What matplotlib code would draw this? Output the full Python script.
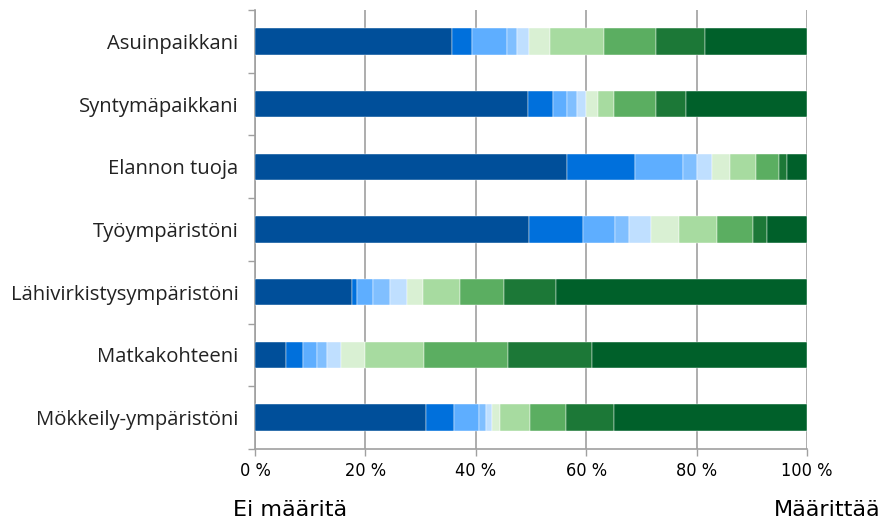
#!/usr/bin/env python3
"""Stacked 100 % bar chart: how much each place defines the respondent"""

import numpy as np
import matplotlib.pyplot as plt
from matplotlib.ticker import FixedLocator, PercentFormatter

# Categories, top to bottom
categories = ['Asuinpaikkani', 'Syntymäpaikkani', 'Elannon tuoja', 'Työympäristöni',
              'Lähivirkistysympäristöni', 'Matkakohteeni', 'Mökkeily-ympäristöni']

# Share (%) of each answer step 1..10, per category
shares = [
    [35.6, 3.7, 6.4, 1.8, 2.2, 3.7, 9.8, 9.5, 8.9, 18.4],
    [49.4, 4.6, 2.6, 1.8, 1.5, 2.2, 2.9, 7.7, 5.3, 22.0],
    [56.6, 12.3, 8.6, 2.6, 2.6, 3.3, 4.7, 4.3, 1.4, 3.6],
    [49.7, 9.7, 5.8, 2.5, 4.1, 5.1, 6.8, 6.6, 2.5, 7.2],
    [17.5, 0.9, 3.0, 3.1, 3.0, 2.9, 6.8, 7.9, 9.4, 45.5],
    [5.7, 3.0, 2.5, 1.8, 2.5, 4.4, 10.8, 15.1, 15.2, 39.0],
    [30.9, 5.1, 4.6, 1.2, 1.1, 1.5, 5.5, 6.5, 8.6, 35.0],
]

colors = ['#004f9a', '#0070dc', '#5eaeff', '#80bfff', '#bfdfff',
          '#d9f0d3', '#a7dba0', '#5bae61', '#1c7837', '#00602a']

x_ticks = [0, 20, 40, 60, 80, 100]


def main():
    data = np.array(shares)
    y = np.arange(len(categories))

    fig = plt.figure(figsize=(8.82, 5.25), dpi=100)
    ax = fig.add_axes([255 / 882, 1 - 449 / 525, 552 / 882, 439 / 525])

    left = np.zeros(len(categories))
    for i in range(data.shape[1]):
        ax.barh(y, data[:, i], left=left, height=0.42, color=colors[i],
                edgecolor='white', linewidth=0.3, zorder=3)
        left += data[:, i]

    ax.set_xlim(0, 100)
    ax.set_ylim(len(categories) - 0.5, -0.5)

    # x axis
    ax.xaxis.set_major_locator(FixedLocator(x_ticks))
    ax.xaxis.set_major_formatter(PercentFormatter(decimals=0, symbol=' %'))
    ax.tick_params(axis='x', length=5, width=1, color='#a0a0a0', pad=4,
                   labelsize=13)
    ax.grid(axis='x', color='#a0a0a0', linewidth=1.2, zorder=0)

    # y axis: labels at centres, tick marks between categories
    ax.set_yticks(y)
    ax.set_yticklabels(categories, fontsize=14.6)
    ax.set_yticks(np.arange(-0.5, len(categories) + 0.5, 1), minor=True)
    ax.tick_params(axis='y', which='major', length=0, pad=12)
    ax.tick_params(axis='y', which='minor', length=5, width=1, color='#a0a0a0')

    for side in ['top', 'right']:
        ax.spines[side].set_visible(False)
    for side in ['left', 'bottom']:
        ax.spines[side].set_color('#a0a0a0')
        ax.spines[side].set_linewidth(1.2)

    for lab in ax.get_xticklabels():
        lab.set_family(['DejaVu Sans'])
        lab.set_stretch('condensed')
    for lab in ax.get_yticklabels():
        lab.set_family(['Open Sans', 'DejaVu Sans'])
        lab.set_color('#222222')

    fig.text(233 / 882, 1 - 510 / 525, 'Ei määritä', fontsize=16,
             va='center', ha='left', family=['DejaVu Sans'])
    fig.text(881 / 882, 1 - 510 / 525, 'Määrittää', fontsize=16,
             va='center', ha='right', family=['DejaVu Sans'])

    fig.savefig('out.png', dpi=100)


if __name__ == '__main__':
    main()
